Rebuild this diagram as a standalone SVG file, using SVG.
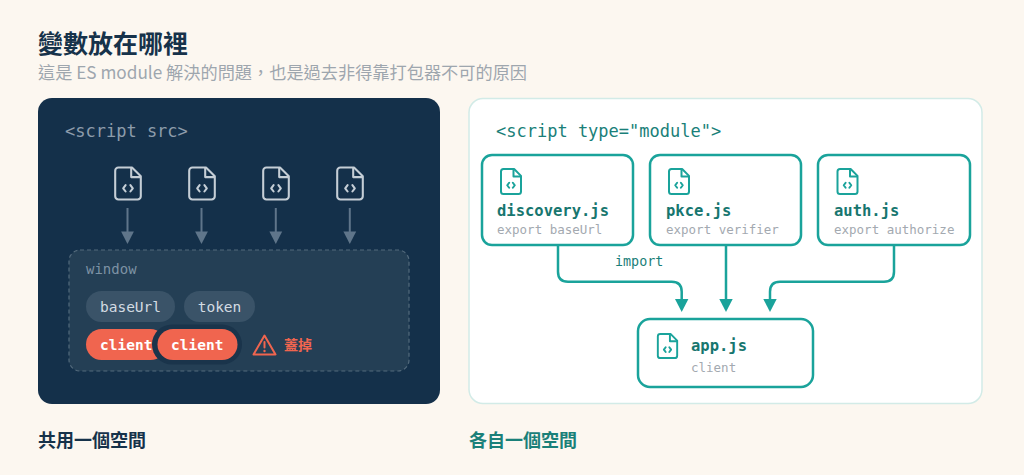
<svg xmlns="http://www.w3.org/2000/svg" width="1024" height="475" viewBox="0 0 1024 475">
<style>
.cjk{font-family:"Noto Sans CJK TC","Noto Sans CJK SC",sans-serif}
.mono{font-family:"DejaVu Sans Mono","Liberation Mono",monospace}
.pill{fill:#3a5368}
.pilltxt{fill:#d3dbe2;font-size:14.5px}
.client{fill:#f0654f}
.clienttxt{fill:#ffffff;font-size:14.5px;font-weight:bold}
.arrowL{stroke:#5f758a;stroke-width:2;fill:none}
.headL{fill:#5f758a}
.mod{fill:#ffffff;stroke:#1aa39b;stroke-width:2.5}
.modname{fill:#17766f;font-size:15.5px;font-weight:bold}
.modsub{fill:#a3a9b0;font-size:12.5px}
.conn{stroke:#1aa39b;stroke-width:2.5;fill:none}
.headR{fill:#1aa39b}
</style>
<defs>
<symbol id="file" viewBox="0 0 24 24">
<path d="M14.5 2H6a2 2 0 0 0-2 2v16a2 2 0 0 0 2 2h12a2 2 0 0 0 2-2V7.5Z" fill="none" stroke="currentColor" stroke-linejoin="round"/>
<path d="M14 2v6h6" fill="none" stroke="currentColor" stroke-linejoin="round"/>
<path d="M10.5 13 9 15l1.5 2M13.5 13 15 15l-1.5 2" fill="none" stroke="currentColor" stroke-linecap="round" stroke-linejoin="round"/>
</symbol>
<path id="headDown" d="M-6.4 0 H6.4 L0 12.5 Z"/>
</defs>
<rect width="1024" height="475" fill="#fcf7f0"/>
<g id="header">
<text x="38" y="53" class="cjk" font-size="25" font-weight="bold" fill="#16324a">變數放在哪裡</text>
<text x="38" y="79" class="cjk" font-size="17.2" fill="#9ea6ae">這是 ES module 解決的問題，也是過去非得靠打包器不可的原因</text>
</g>
<g id="left-panel">
<rect x="38" y="98" width="402" height="306" rx="14" fill="#14304a"/>
<text x="65" y="137" class="mono" font-size="17" fill="#8d9cab">&lt;script src&gt;</text>
</g>
<g id="scripts" color="#c5ced6" stroke-width="1.3">
<use href="#file" x="108.8" y="164.3" width="38.4" height="38.4"/>
<use href="#file" x="182.8" y="164.3" width="38.4" height="38.4"/>
<use href="#file" x="256.8" y="164.3" width="38.4" height="38.4"/>
<use href="#file" x="330.8" y="164.3" width="38.4" height="38.4"/>
</g>
<g id="connectors-left">
<line x1="127.5" y1="208" x2="127.5" y2="232" class="arrowL"/>
<use href="#headDown" x="127.5" y="231.5" class="headL"/>
<line x1="201.5" y1="208" x2="201.5" y2="232" class="arrowL"/>
<use href="#headDown" x="201.5" y="231.5" class="headL"/>
<line x1="275.8" y1="208" x2="275.8" y2="232" class="arrowL"/>
<use href="#headDown" x="275.8" y="231.5" class="headL"/>
<line x1="349.8" y1="208" x2="349.8" y2="232" class="arrowL"/>
<use href="#headDown" x="349.8" y="231.5" class="headL"/>
</g>
<g id="window">
<rect x="69" y="250" width="340" height="121" rx="11" fill="#243f55" stroke="#536a7c" stroke-width="1.2" stroke-dasharray="4 3"/>
<text x="86" y="274" class="mono" font-size="14" fill="#7d92a4">window</text>
<g id="var-baseUrl">
<rect x="86" y="291" width="89" height="31" rx="15.5" class="pill"/>
<text x="130.5" y="312" class="mono pilltxt" text-anchor="middle">baseUrl</text>
</g>
<g id="var-token">
<rect x="184" y="291" width="71" height="31" rx="15.5" class="pill"/>
<text x="219.5" y="312" class="mono pilltxt" text-anchor="middle">token</text>
</g>
<g id="var-client-1">
<rect x="86" y="329" width="80" height="31" rx="15.5" class="client"/>
<text x="100" y="350" class="mono clienttxt">client</text>
</g>
<g id="var-client-2">
<rect x="152" y="324.5" width="90" height="40" rx="20" fill="#1a344b"/>
<rect x="157.5" y="329" width="80" height="31" rx="15.5" class="client"/>
<text x="171" y="350" class="mono clienttxt">client</text>
</g>
<g id="overwrite">
<path d="M264.5 335.5 L275.5 354.5 H253.5 Z" fill="none" stroke="#f0654f" stroke-width="2" stroke-linejoin="round"/>
<line x1="264.5" y1="342" x2="264.5" y2="347.5" stroke="#f0654f" stroke-width="2" stroke-linecap="round"/>
<circle cx="264.5" cy="351" r="1.2" fill="#f0654f"/>
<text x="284" y="350" class="cjk" font-size="14" font-weight="bold" fill="#f0654f">蓋掉</text>
</g>
</g>
<g id="right-panel">
<rect x="469" y="98.5" width="513" height="305" rx="14" fill="#ffffff" stroke="#d2ebe7" stroke-width="1.5"/>
<text x="496" y="137" class="mono" font-size="17" fill="#1a7f79">&lt;script type="module"&gt;</text>
</g>
<g id="connectors-right">
<path d="M558 245 V271.7 Q558 281.7 568 281.7 H671.7 Q681.7 281.7 681.7 291.7 V299.5" class="conn"/>
<path d="M675 299 H688.4 L681.7 312 Z" class="headR"/>
<path d="M726 245 V299.5" class="conn"/>
<path d="M719.3 299 H732.7 L726 312 Z" class="headR"/>
<path d="M894 245 V271.7 Q894 281.7 884 281.7 H780 Q770 281.7 770 291.7 V299.5" class="conn"/>
<path d="M763.3 299 H776.7 L770 312 Z" class="headR"/>
<text x="615" y="266" class="mono" font-size="13.4" fill="#1a8079">import</text>
</g>
<g id="mod-discovery">
<rect x="482" y="155" width="151" height="90" rx="10" class="mod"/>
<use href="#file" x="496" y="166.5" width="30" height="30" color="#1aa39b" stroke-width="1.6"/>
<text x="497" y="216" class="mono modname">discovery.js</text>
<text x="497" y="234" class="mono modsub">export baseUrl</text>
</g>
<g id="mod-pkce">
<rect x="650" y="155" width="151" height="90" rx="10" class="mod"/>
<use href="#file" x="664" y="166.5" width="30" height="30" color="#1aa39b" stroke-width="1.6"/>
<text x="666" y="216" class="mono modname">pkce.js</text>
<text x="666" y="234" class="mono modsub">export verifier</text>
</g>
<g id="mod-auth">
<rect x="818" y="155" width="152" height="90" rx="10" class="mod"/>
<use href="#file" x="832.5" y="166.5" width="30" height="30" color="#1aa39b" stroke-width="1.6"/>
<text x="834" y="216" class="mono modname">auth.js</text>
<text x="834" y="234" class="mono modsub">export authorize</text>
</g>
<g id="mod-app">
<rect x="638" y="319" width="175" height="68" rx="12" class="mod" stroke-width="3"/>
<use href="#file" x="653" y="331.5" width="29" height="29" color="#1aa39b" stroke-width="1.6"/>
<text x="691" y="351" class="mono modname">app.js</text>
<text x="691" y="372" class="mono modsub">client</text>
</g>
<g id="captions">
<text x="38" y="447" class="cjk" font-size="18" font-weight="bold" fill="#16324a">共用一個空間</text>
<text x="469" y="447" class="cjk" font-size="18" font-weight="bold" fill="#1a8079">各自一個空間</text>
</g>
</svg>
